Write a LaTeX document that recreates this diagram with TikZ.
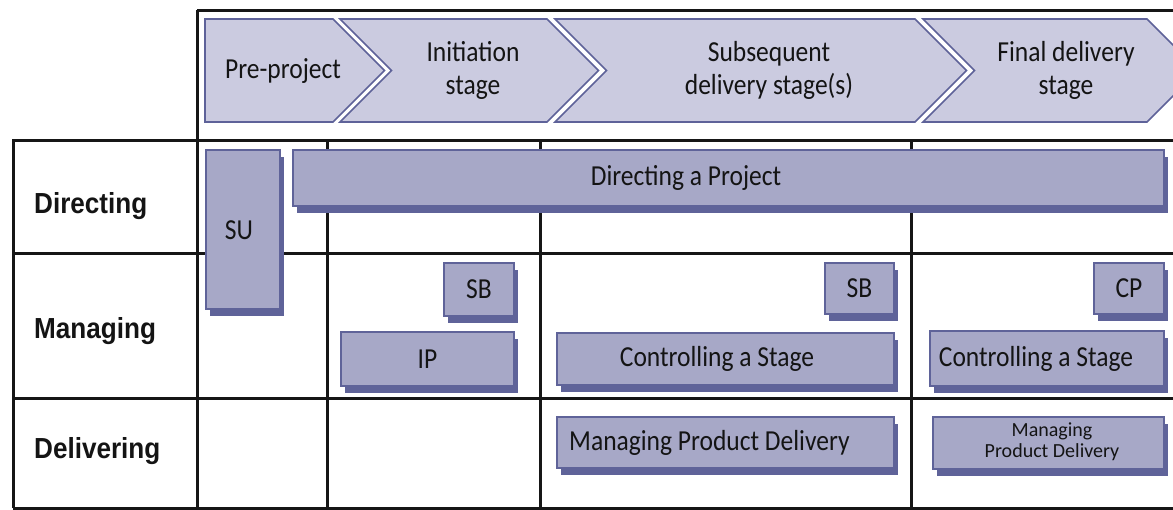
\documentclass[tikz,border=0pt]{standalone}
\usepackage{fontspec}
\setmainfont[FakeStretch=0.88]{Carlito}
\newfontfamily\lblfont[FakeStretch=0.9]{Liberation Sans}
\newfontfamily\smallfont{Carlito}
\usetikzlibrary{shadows}
\definecolor{chevfill}{HTML}{CBCBE0}
\definecolor{chevline}{HTML}{5E6299}
\definecolor{boxfill}{HTML}{A7A8C7}
\definecolor{boxline}{HTML}{5F6399}
\definecolor{gridcol}{HTML}{161616}
\definecolor{ink}{HTML}{141414}
\tikzset{
  gridln/.style={draw=gridcol, line width=3pt},
  chev/.style={fill=chevfill, draw=chevline, line width=1.6pt, line join=miter},
  chevtext/.style={align=center, font=\fontsize{29}{33}\selectfont, text=ink, inner sep=0pt},
  box/.style={rectangle, fill=boxfill, draw=boxline, line width=2pt, inner sep=0pt,
    drop shadow={shadow xshift=4pt, shadow yshift=-7pt, fill=boxline, opacity=1},
    font=\fontsize{29}{33}\selectfont, text=ink},
  boxtext/.style={inner sep=0pt, font=\fontsize{29}{33}\selectfont, text=ink},
  smalltext/.style={inner sep=0pt, align=center, font=\smallfont\fontsize{20}{21}\selectfont, text=ink},
  rowlabel/.style={anchor=base west, inner sep=0pt, font=\lblfont\bfseries\fontsize{29}{33}\selectfont, text=ink}
}
\begin{document}
\begin{tikzpicture}[x=1pt, y=-1pt]
\useasboundingbox (0,0) rectangle (1173,509);
\begin{scope}
\clip (0,0) rectangle (1173,509);
% background
\fill[white] (0,0) rectangle (1173,509);
% table grid
\draw[gridln] (197,10) -- (1180,10);
\draw[gridln] (197,10) -- (197,508);
\draw[gridln] (13,508) -- (13,140) -- (1180,140);
\draw[gridln] (13,253) -- (1180,253);
\draw[gridln] (13,398) -- (1180,398);
\draw[gridln] (13,508) -- (1180,508);
\draw[gridln] (327,140) -- (327,508);
\draw[gridln] (540,140) -- (540,508);
\draw[gridln] (911,140) -- (911,508);
% chevrons
\draw[chev] (205,19) -- (333,19) -- (384.5,70.5) -- (333,122) -- (205,122) -- cycle;
\draw[chev] (340,19) -- (547,19) -- (598.5,70.5) -- (547,122) -- (340,122) -- (391.5,70.5) -- cycle;
\draw[chev] (555,19) -- (915,19) -- (966.5,70.5) -- (915,122) -- (555,122) -- (606.5,70.5) -- cycle;
\draw[chev] (923,19) -- (1147,19) -- (1198.5,70.5) -- (1147,122) -- (923,122) -- (974.5,70.5) -- cycle;
\node[chevtext, anchor=base] (pre) at (283,78) {Pre-project};
\node[chevtext] (ini) at (473,70) {Initiation\\stage};
\node[chevtext] (sub) at (769,70) {Subsequent\\delivery stage(s)};
\node[chevtext] (fin) at (1066,70) {Final delivery\\stage};
% row labels
\node[rowlabel] (dir) at (34,213) {Directing};
\node[rowlabel] (man) at (34,338) {Managing};
\node[rowlabel] (del) at (34,458) {Delivering};
% process boxes
\node[box, minimum width=74pt, minimum height=159pt] (su) at (243,229.5) {};
\node[boxtext] (sut) at (239,230) {SU};
\node[box, minimum width=871pt, minimum height=56pt] (dap) at (728.5,178) {};
\node[boxtext] (dapt) at (686,178) {Directing a Project};
\node[box, minimum width=70pt, minimum height=53pt] (sb1) at (479,289.5) {SB};
\node[box, minimum width=173pt, minimum height=54pt] (ip) at (427.5,359) {IP};
\node[box, minimum width=69pt, minimum height=51pt] (sb2) at (859.5,288.5) {SB};
\node[box, minimum width=337pt, minimum height=52pt] (cas1) at (725.5,359) {};
\node[boxtext] (cas1t) at (717,359) {Controlling a Stage};
\node[box, minimum width=337pt, minimum height=51pt] (mpd1) at (725.5,442.5) {};
\node[boxtext, anchor=west] (mpd1t) at (569,442.5) {Managing Product Delivery};
\node[box, minimum width=70pt, minimum height=51pt] (cp) at (1129,288.5) {CP};
\node[box, minimum width=234pt, minimum height=55pt] (cas2) at (1047,358.5) {};
\node[boxtext] (cas2t) at (1036,358.5) {Controlling a Stage};
\node[box, minimum width=231pt, minimum height=52pt] (mpd2) at (1048.5,443) {};
\node[smalltext] (mpd2t) at (1052,442) {Managing\\Product Delivery};
\end{scope}
\end{tikzpicture}
\end{document}
